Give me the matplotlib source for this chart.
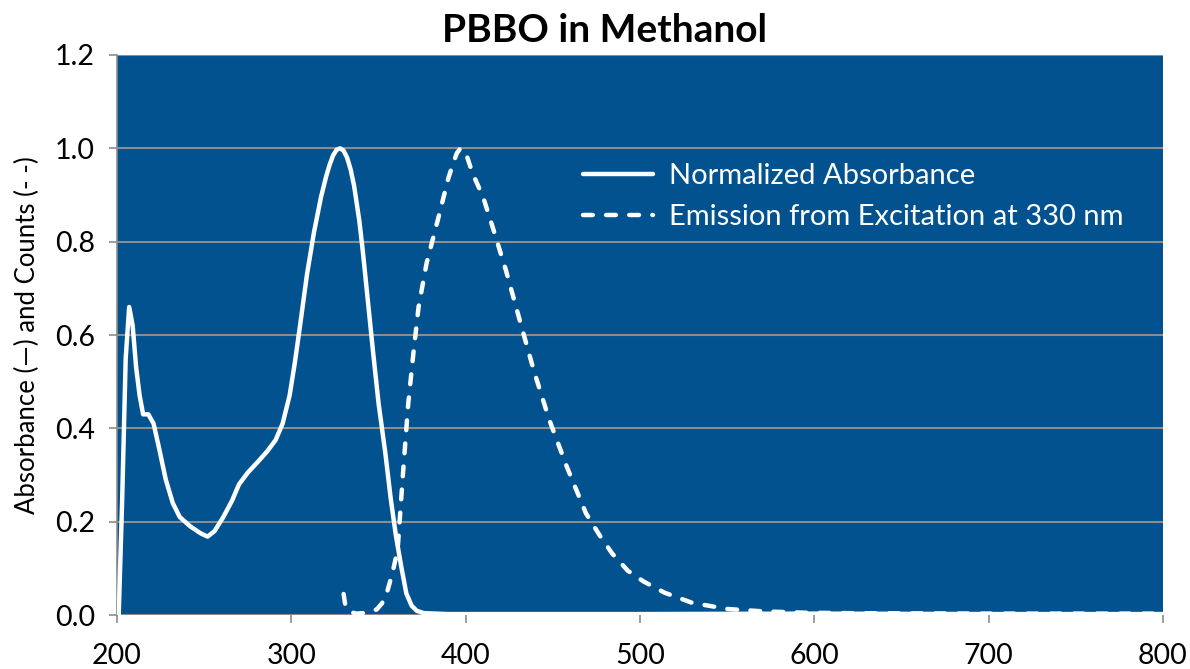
import matplotlib.pyplot as plt
import numpy as np

# Normalized absorbance (solid)
abs_nm = [201, 203, 205, 207, 209, 211, 213, 215, 218, 221, 224, 228, 232, 236,
          242, 248, 252, 256, 261, 266, 270, 275, 280, 286, 291, 295, 299, 302,
          305, 309, 313, 317, 320, 322, 324, 326, 328, 330, 332, 334, 336, 339,
          341, 344, 347, 350, 354, 357, 360, 363, 366, 369, 372, 376, 390, 500,
          600, 700, 800]
abs_val = [0.0, 0.25, 0.55, 0.66, 0.62, 0.53, 0.47, 0.43, 0.43, 0.41, 0.36, 0.29,
           0.24, 0.21, 0.19, 0.175, 0.168, 0.18, 0.21, 0.245, 0.28, 0.305, 0.325,
           0.35, 0.375, 0.41, 0.47, 0.54, 0.62, 0.73, 0.82, 0.895, 0.94, 0.965,
           0.985, 0.997, 1.0, 0.995, 0.98, 0.955, 0.92, 0.845, 0.78, 0.67, 0.56,
           0.455, 0.345, 0.25, 0.17, 0.105, 0.046, 0.02, 0.009, 0.004, 0.002,
           0.002, 0.003, 0.002, 0.002]

# Emission from excitation at 330 nm (dashed)
em_nm = [330, 331, 333, 337, 341, 345, 349, 352, 355, 358, 361, 364, 367, 370,
         373, 377.6, 384, 390, 393, 395, 397, 399, 401, 404, 410, 416, 423, 431,
         439, 448, 458, 469, 477, 484, 493, 502, 514, 530, 550, 570, 594, 620,
         700, 800]
em_val = [0.045, 0.02, 0.008, 0.003, 0.004, 0.007, 0.012, 0.025, 0.05, 0.09, 0.14,
          0.3, 0.45, 0.56, 0.66, 0.754, 0.846, 0.935, 0.97, 0.99, 1.0, 0.995,
          0.98, 0.946, 0.896, 0.825, 0.74, 0.632, 0.525, 0.418, 0.318, 0.218,
          0.17, 0.132, 0.095, 0.072, 0.048, 0.026, 0.013, 0.008, 0.005, 0.004,
          0.003, 0.003]

plt.rcParams['font.family'] = ['Lato', 'DejaVu Sans']

fig = plt.figure(figsize=(11.9, 6.69), dpi=100)
ax = fig.add_axes([0.0983, 0.0807, 0.8790, 0.8371])
ax.set_facecolor('#01528F')

ax.plot(abs_nm, abs_val, color='white', lw=3.2, solid_capstyle='round',
        solid_joinstyle='round', label='Normalized Absorbance', zorder=3)
ax.plot(em_nm, em_val, color='white', lw=3.2, linestyle=(0, (2.2, 3.0)),
        dash_capstyle='round', label='Emission from Excitation at 330 nm', zorder=3)

ax.set_xlim(200, 800)
ax.set_ylim(0, 1.2)
ax.set_xticks(np.arange(200, 801, 100))
ax.set_yticks(np.arange(0, 1.21, 0.2))
ax.set_yticklabels([f'{v:.1f}' for v in np.arange(0, 1.21, 0.2)])
ax.yaxis.grid(True, color='#8C8C8C', lw=1.5)
ax.set_axisbelow(True)

for s in ['top', 'right', 'bottom']:
    ax.spines[s].set_visible(False)
ax.spines['left'].set_color('#8C8C8C')
ax.spines['left'].set_linewidth(1.2)
ax.tick_params(axis='both', colors='#8C8C8C', labelcolor='black', labelsize=20.5,
               length=6, width=1.2)
ax.tick_params(axis='x', pad=14)
ax.tick_params(axis='y', pad=10)

ax.set_ylabel('Absorbance (\u2014) and Counts (- -)', fontsize=18.5)
ax.yaxis.set_label_coords(-0.074, 0.5)
fig.text(0.508, 0.955, 'PBBO in Methanol', fontsize=28, fontweight='bold',
         ha='center', va='center')

leg = ax.legend(loc='center left', bbox_to_anchor=(0.4455, 0.747), frameon=False,
                fontsize=21, handlelength=2.4, labelspacing=0.5,
                handletextpad=0.55, borderpad=0, borderaxespad=0)
for t in leg.get_texts():
    t.set_color('white')

fig.savefig('out.png', dpi=100)
